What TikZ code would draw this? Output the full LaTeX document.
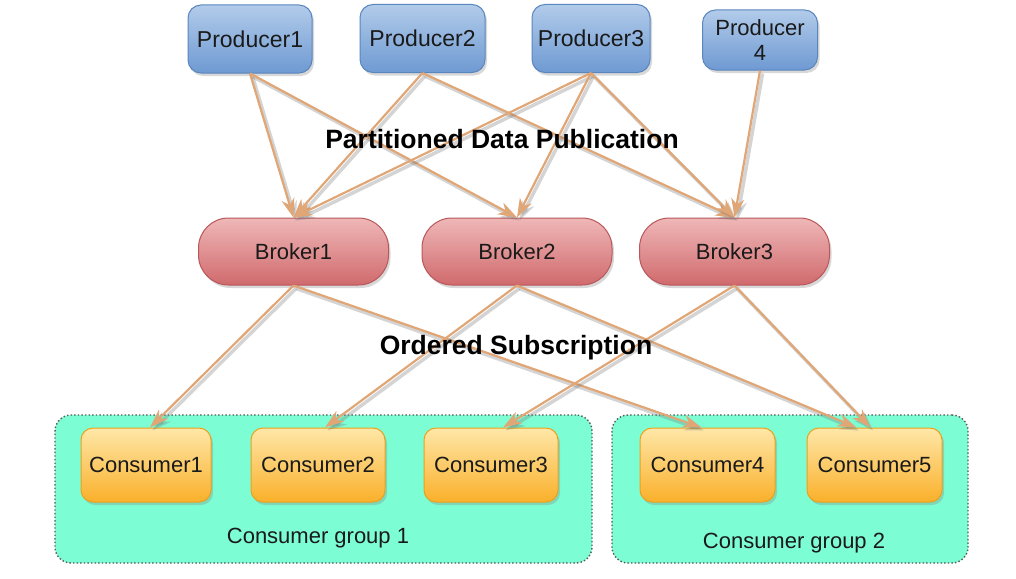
\documentclass[tikz,border=0pt]{standalone}
\usepackage{fontspec}
\setmainfont{Liberation Sans}
\usetikzlibrary{arrows.meta,shadows}
\definecolor{prodtop}{HTML}{B2CBEA}
\definecolor{prodmid}{HTML}{8DB0DD}
\definecolor{prodbot}{HTML}{6E9AD2}
\definecolor{prodline}{HTML}{5A86BE}
\definecolor{brktop}{HTML}{EFB7B7}
\definecolor{brkmid}{HTML}{DD8688}
\definecolor{brkbot}{HTML}{D06A6D}
\definecolor{brkline}{HTML}{B9575A}
\definecolor{contop}{HTML}{FEE7A8}
\definecolor{conmid}{HTML}{FCC553}
\definecolor{conbot}{HTML}{FAB02A}
\definecolor{conline}{HTML}{E9A21F}
\definecolor{grpfill}{HTML}{7DFDD3}
\definecolor{grpline}{HTML}{555555}
\definecolor{arrcol}{HTML}{E0A676}
\definecolor{txt}{HTML}{1A1A1A}
\begin{document}
\begin{tikzpicture}[x=1pt,y=-1pt,
  base/.style={inner sep=0pt, align=center, text=txt, font=\fontsize{22}{25}\selectfont},
  shad/.style={drop shadow={opacity=0.3,shadow xshift=2pt,shadow yshift=-3pt}},
  producer/.style={base, shad, rounded corners=13pt, draw=prodline, line width=1pt,
    top color=prodtop, middle color=prodmid, bottom color=prodbot, minimum height=68pt,
    font=\fontsize{23}{25}\selectfont},
  broker/.style={base, shad, rounded corners=30pt, draw=brkline, line width=1pt,
    top color=brktop, middle color=brkmid, bottom color=brkbot, minimum height=67pt, minimum width=190pt},
  consumer/.style={base, shad, rounded corners=12pt, draw=conline, line width=1pt,
    top color=contop, middle color=conmid, bottom color=conbot, minimum height=74pt},
  group/.style={rounded corners=16pt, fill=grpfill, draw=grpline, line width=1.4pt,
    dash pattern=on 1.4pt off 2.2pt, minimum height=148pt},
  grplabel/.style={base},
  heading/.style={inner sep=0pt, text=black, font=\fontsize{26.5}{28}\selectfont\bfseries},
  arr/.style={draw=arrcol, line width=2.2pt, -{Stealth[length=19pt,width=13pt,inset=6pt]},
    preaction={draw=black!55, opacity=0.3, line width=3.5pt,
      transform canvas={xshift=2.5pt,yshift=-3pt}}}
]
\useasboundingbox (0,0) rectangle (1016,578);
\fill[white] (0,0) rectangle (1016,578);

% consumer groups
\node[group, minimum width=537pt] (g1) at (323.5,489) {};
\node[group, minimum width=356pt] (g2) at (790,489) {};
\node[grplabel] (g1l) at (318,538) {Consumer group 1};
\node[grplabel] (g2l) at (794,543) {Consumer group 2};

% consumers
\node[consumer, minimum width=130pt] (c1) at (146,465) {Consumer1};
\node[consumer, minimum width=134pt] (c2) at (318,465) {Consumer2};
\node[consumer, minimum width=134pt] (c3) at (491,465) {Consumer3};
\node[consumer, minimum width=135pt] (c4) at (707.5,465) {Consumer4};
\node[consumer, minimum width=135pt] (c5) at (874.5,465) {Consumer5};

% brokers
\node[broker] (b1) at (293.5,251.5) {Broker1};
\node[broker] (b2) at (517,251.5) {Broker2};
\node[broker] (b3) at (734.5,251.5) {Broker3};

% producers
\node[producer, minimum width=124pt] (p1) at (250,39) {Producer1};
\node[producer, minimum width=125pt] (p2) at (422.5,38.5) {Producer2};
\node[producer, minimum width=118pt] (p3) at (591,38.5) {Producer3};
\node[producer, minimum width=115pt, minimum height=60pt, font=\fontsize{22}{25}\selectfont] (p4) at (760,40) {Producer\\4};

% publication arrows
\draw[arr] (p1.south) -- (b1.north);
\draw[arr] (p1.south) -- (b2.north);
\draw[arr] (p2.south) -- (b1.north);
\draw[arr] (p2.south) -- (b3.north);
\draw[arr] (p3.south) -- (b1.north);
\draw[arr] (p3.south) -- (b2.north);
\draw[arr] (p3.south) -- (b3.north);
\draw[arr] (p4.south) -- (b3.north);

% subscription arrows
\draw[arr] (b1.south) -- ([xshift=4pt]c1.north);
\draw[arr] (b1.south) -- ([xshift=-6pt]c4.north);
\draw[arr] (b2.south) -- ([xshift=7pt]c2.north);
\draw[arr] (b2.south) -- ([xshift=-18pt]c5.north);
\draw[arr] (b3.south) -- ([xshift=12pt]c3.north);
\draw[arr] (b3.south) -- ([xshift=-4pt]c5.north);

% headings
\node[heading] (h1) at (502,139) {Partitioned Data Publication};
\node[heading] (h2) at (516,348) {Ordered Subscription};
\end{tikzpicture}
\end{document}
